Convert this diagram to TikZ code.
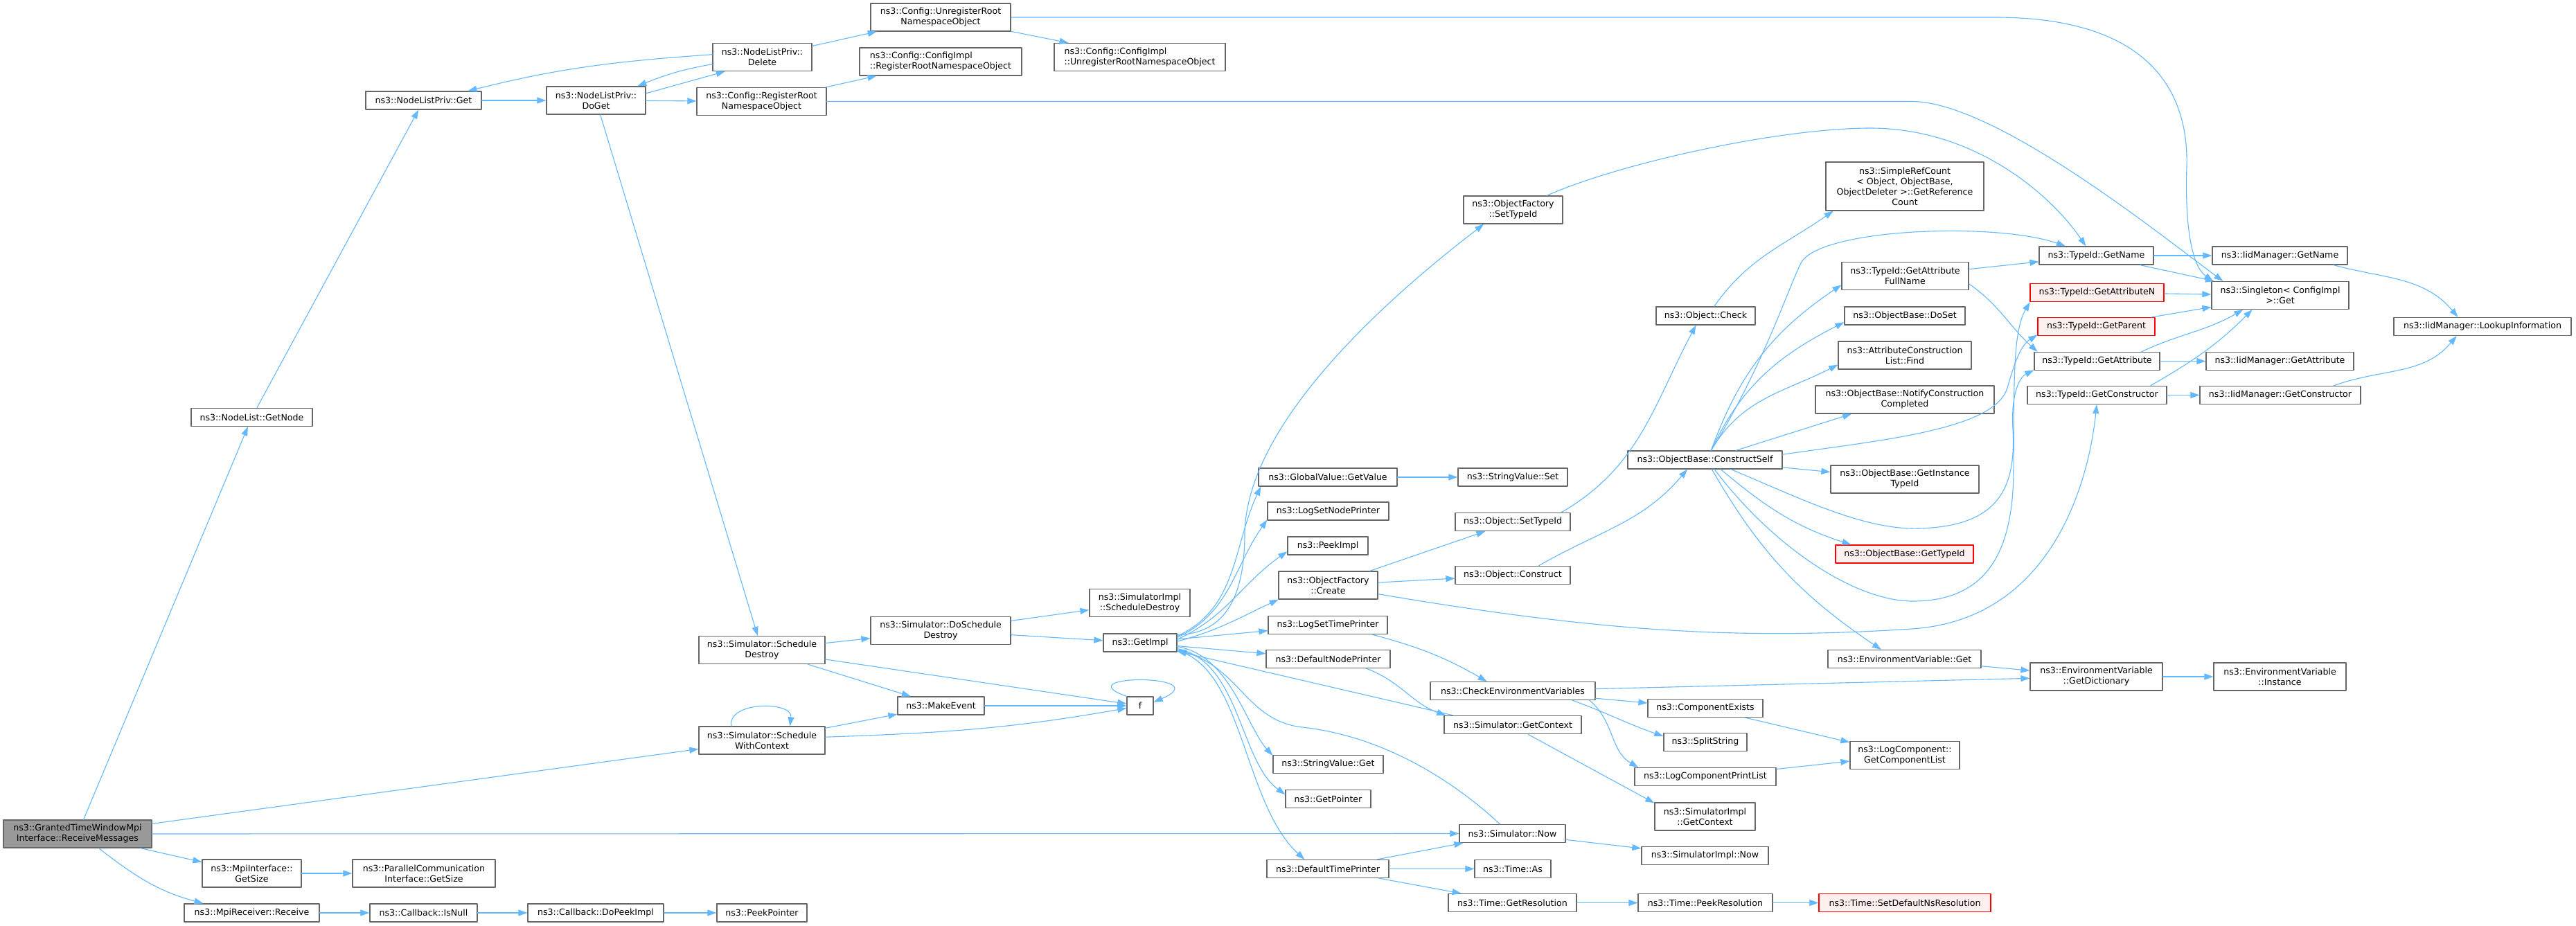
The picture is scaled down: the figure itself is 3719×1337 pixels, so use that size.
\documentclass[tikz,border=0pt]{standalone}
\usepackage{fontspec}
\setmainfont{DejaVu Sans}
\usetikzlibrary{arrows.meta}
\definecolor{edgeblue}{HTML}{63B8FF}
\definecolor{boxline}{HTML}{666666}
\definecolor{rootgray}{HTML}{999999}
\definecolor{missfill}{HTML}{FFF0F0}
\begin{document}
\begin{tikzpicture}[x=1pt, y=-1pt, line join=round, line cap=round,
	fn/.style={draw=boxline, line width=1.2pt, fill=white, inner sep=1pt, minimum height=26pt, align=center, font=\fontsize{12.6}{15}\selectfont},
	fn2/.style={fn, minimum height=40pt},
	root/.style={fill=rootgray},
	miss/.style={draw=red, fill=missfill},
	calls/.style={draw=edgeblue, line width=1.1pt, -{Triangle[length=13pt,width=9pt]}}]
	\path[fill=white, use as bounding box] (0,0) rectangle (3719,1337);
	% column 1-2
	\node[fn2, root, minimum width=214] (recv) at (112,1204) {ns3::GrantedTimeWindowMpi\\Interface::ReceiveMessages};
	\node[fn, minimum width=175] (getnode) at (363.5,602.5) {ns3::NodeList::GetNode};
	\node[fn2, minimum width=143] (mpisize) at (363.5,1261) {ns3::MpiInterface::\\GetSize};
	\node[fn, minimum width=195] (mpirecv) at (363.5,1318) {ns3::MpiReceiver::Receive};
	% column 3-4
	\node[fn, minimum width=167] (get) at (611.5,145) {ns3::NodeListPriv::Get};
	\node[fn2, minimum width=206] (pcisize) at (612,1261) {ns3::ParallelCommunication\\Interface::GetSize};
	\node[fn, minimum width=155] (isnull) at (611.5,1318) {ns3::Callback::IsNull};
	\node[fn2, minimum width=143] (doget) at (860.5,145) {ns3::NodeListPriv::\\DoGet};
	\node[fn, minimum width=196] (dopeek) at (860,1318) {ns3::Callback::DoPeekImpl};
	% column 5
	\node[fn2, minimum width=143] (delete) at (1100.5,82.5) {ns3::NodeListPriv::\\Delete};
	\node[fn2, minimum width=187] (regroot) at (1099.5,146.5) {ns3::Config::RegisterRoot\\NamespaceObject};
	\node[fn2, minimum width=182] (schdestroy) at (1100,938.5) {ns3::Simulator::Schedule\\Destroy};
	\node[fn2, minimum width=182] (schctx) at (1100,1069) {ns3::Simulator::Schedule\\WithContext};
	\node[fn, minimum width=130] (peekptr) at (1100,1318) {ns3::PeekPointer};
	% column 6
	\node[fn2, minimum width=202] (unregroot) at (1358,25) {ns3::Config::UnregisterRoot\\NamespaceObject};
	\node[fn2, minimum width=234, align=left] (implreg) at (1358,89) {ns3::Config::ConfigImpl\\::RegisterRootNamespaceObject};
	\node[fn2, minimum width=202] (doschd) at (1358,910.5) {ns3::Simulator::DoSchedule\\Destroy};
	\node[fn, minimum width=125] (makeevent) at (1358.5,1019) {ns3::MakeEvent};
	% column 7
	\node[fn2, minimum width=247, align=left] (implunreg) at (1645.5,82.5) {ns3::Config::ConfigImpl\\::UnregisterRootNamespaceObject};
	\node[fn2, minimum width=145] (implschd) at (1645.5,870.5) {ns3::SimulatorImpl\\::ScheduleDestroy};
	\node[fn, minimum width=106] (getimpl) at (1646,928) {ns3::GetImpl};
	\node[fn, minimum width=38] (f) at (1646,1019) {f};
	% column 8
	\node[fn, minimum width=200] (globget) at (1917,689) {ns3::GlobalValue::GetValue};
	\node[fn, minimum width=175] (lognode) at (1917.5,738) {ns3::LogSetNodePrinter};
	\node[fn, minimum width=116] (peekimpl) at (1917,788) {ns3::PeekImpl};
	\node[fn2, minimum width=143] (factcreate) at (1917.5,845) {ns3::ObjectFactory\\::Create};
	\node[fn, minimum width=172] (logtime) at (1917,902.5) {ns3::LogSetTimePrinter};
	\node[fn, minimum width=179] (defnode) at (1917.5,951.5) {ns3::DefaultNodePrinter};
	\node[fn, minimum width=159] (strget) at (1917.5,1103.5) {ns3::StringValue::Get};
	\node[fn, minimum width=123] (getptr) at (1917.5,1153.5) {ns3::GetPointer};
	\node[fn, minimum width=176] (deftime) at (1917,1254.5) {ns3::DefaultTimePrinter};
	% column 9
	\node[fn2, minimum width=143] (factsettype) at (2184.5,303) {ns3::ObjectFactory\\::SetTypeId};
	\node[fn, minimum width=158] (strset) at (2184,689) {ns3::StringValue::Set};
	\node[fn, minimum width=166] (objsettype) at (2184,753.5) {ns3::Object::SetTypeId};
	\node[fn, minimum width=166] (construct) at (2184,830.5) {ns3::Object::Construct};
	\node[fn, minimum width=238] (checkenv) at (2184,997.5) {ns3::CheckEnvironmentVariables};
	\node[fn, minimum width=198] (simctx) at (2184,1046.5) {ns3::Simulator::GetContext};
	\node[fn, minimum width=153] (simnow) at (2183.5,1203.5) {ns3::Simulator::Now};
	\node[fn, minimum width=110] (timeas) at (2184,1254.5) {ns3::Time::As};
	\node[fn, minimum width=185] (getres) at (2183.5,1303.5) {ns3::Time::GetResolution};
	% column 10
	\node[fn, minimum width=143] (check) at (2462.5,456) {ns3::Object::Check};
	\node[fn, minimum width=223] (constself) at (2461.5,664) {ns3::ObjectBase::ConstructSelf};
	\node[fn, minimum width=166] (compexists) at (2462,1022.5) {ns3::ComponentExists};
	\node[fn, minimum width=120] (split) at (2462,1071.5) {ns3::SplitString};
	\node[fn, minimum width=204] (logprint) at (2462,1121.5) {ns3::LogComponentPrintList};
	\node[fn2, minimum width=145] (implctx) at (2461.5,1179) {ns3::SimulatorImpl\\::GetContext};
	\node[fn, minimum width=183] (implnow) at (2461.5,1235.5) {ns3::SimulatorImpl::Now};
	\node[fn, minimum width=194] (peekres) at (2462,1303.5) {ns3::Time::PeekResolution};
	% column 11
	\node[fn, minimum width=228, minimum height=70] (simpleref) at (2750,269) {ns3::SimpleRefCount\\< Object, ObjectBase,\\ObjectDeleter >::GetReference\\Count};
	\node[fn2, minimum width=183] (attrfull) at (2750.5,398.5) {ns3::TypeId::GetAttribute\\FullName};
	\node[fn, minimum width=174] (doset) at (2750,456) {ns3::ObjectBase::DoSet};
	\node[fn2, minimum width=192] (acfind) at (2750,513) {ns3::AttributeConstruction\\List::Find};
	\node[fn2, minimum width=258] (notify) at (2750,577) {ns3::ObjectBase::NotifyConstruction\\Completed};
	\node[fn2, minimum width=214] (instid) at (2750,692) {ns3::ObjectBase::GetInstance\\TypeId};
	\node[fn, miss, minimum width=199] (obgettid) at (2749.5,800) {ns3::ObjectBase::GetTypeId};
	\node[fn, minimum width=221] (envget) at (2749.5,951.5) {ns3::EnvironmentVariable::Get};
	\node[fn2, minimum width=158] (complist) at (2750,1090.5) {ns3::LogComponent::\\GetComponentList};
	\node[fn, miss, minimum width=248] (setdefres) at (2750,1303.5) {ns3::Time::SetDefaultNsResolution};
	% column 12
	\node[fn, minimum width=165] (getname) at (3026.5,369) {ns3::TypeId::GetName};
	\node[fn, miss, minimum width=193] (getattrn) at (3027.5,422.5) {ns3::TypeId::GetAttributeN};
	\node[fn, miss, minimum width=169] (getparent) at (3026.5,471.5) {ns3::TypeId::GetParent};
	\node[fn, minimum width=181] (getattr) at (3027.5,521.5) {ns3::TypeId::GetAttribute};
	\node[fn, minimum width=201] (getctor) at (3027.5,570.5) {ns3::TypeId::GetConstructor};
	\node[fn2, minimum width=191] (getdict) at (3026.5,977) {ns3::EnvironmentVariable\\::GetDictionary};
	% column 13-14
	\node[fn, minimum width=195] (iidname) at (3291.5,369) {ns3::IidManager::GetName};
	\node[fn2, minimum width=198] (singleton) at (3292,426.5) {ns3::Singleton< ConfigImpl\\>::Get};
	\node[fn, minimum width=213] (iidattr) at (3291.5,521.5) {ns3::IidManager::GetAttribute};
	\node[fn, minimum width=232] (iidctor) at (3292,570.5) {ns3::IidManager::GetConstructor};
	\node[fn2, minimum width=191] (envinst) at (3291.5,977) {ns3::EnvironmentVariable\\::Instance};
	\node[fn, minimum width=256] (lookup) at (3584,471.5) {ns3::IidManager::LookupInformation};
	% calls from the root
	\draw[calls] (recv) -- (getnode);
	\draw[calls] (recv) -- (schctx);
	\draw[calls] (recv) -- (simnow);
	\draw[calls] (recv) -- (mpisize);
	\draw[calls] (recv.-34) to[out=-38,in=165] (mpirecv.169);
	\draw[calls] (mpisize) -- (pcisize);
	\draw[calls] (mpirecv) -- (isnull);
	\draw[calls] (isnull) -- (dopeek);
	\draw[calls] (dopeek) -- (peekptr);
	% node list
	\draw[calls] (getnode) -- (get);
	\draw[calls] (get) -- (doget);
	\draw[calls] (doget.8) -- (delete.-159);
	\draw[calls] (delete.-172) to[out=190,in=22] (doget.19);
	\draw[calls] (delete.177) to[out=184,in=14] (get.12);
	\draw[calls] (doget) -- (regroot);
	\draw[calls] (doget) -- (schdestroy);
	\draw[calls] (delete) -- (unregroot);
	\draw[calls] (unregroot) -- (implunreg);
	\draw[calls] (regroot) -- (implreg);
	\draw[calls] (unregroot.east) -- (2880,25) .. controls (3090,25) and (3160,120) .. (3157,240) .. controls (3154,330) and (3165,385) .. (singleton.168);
	\draw[calls] (regroot.east) -- (2760,146.5) .. controls (2880,146.5) and (3120,340) .. (singleton.166);
	% simulator
	\draw[calls] (schdestroy) -- (doschd);
	\draw[calls] (schdestroy) -- (makeevent);
	\draw[calls] (schdestroy) -- (f);
	\draw[calls] (schctx.155) .. controls (1050,1012) and (1145,1012) .. (schctx.27);
	\draw[calls] (schctx) -- (makeevent);
	\draw[calls] (schctx.3) to[out=2,in=190] (f.-170);
	\draw[calls] (makeevent) -- (f);
	\draw[calls] (f.145) .. controls (1535,973) and (1760,973) .. (f.15);
	\draw[calls] (doschd) -- (implschd);
	\draw[calls] (doschd) -- (getimpl);
	% GetImpl fan
	\draw[calls] (getimpl.12) .. controls (1770,915) and (1797,860) .. (1797,770) .. controls (1800,600) and (2030,410) .. (factsettype.-154);
	\draw[calls] (getimpl.10) to[out=25,in=-115] (globget.-172);
	\draw[calls] (getimpl.8) to[out=25,in=-125] (lognode.-172);
	\draw[calls] (getimpl.5) to[out=25,in=-145] (peekimpl.-172);
	\draw[calls] (getimpl.2) to[out=15,in=-155] (factcreate.-164);
	\draw[calls] (getimpl) -- (logtime);
	\draw[calls] (getimpl) -- (defnode);
	\draw[calls] (getimpl.-6) .. controls (1775,945) and (1800,1050) .. (strget.171);
	\draw[calls] (getimpl.-9) .. controls (1790,955) and (1790,1100) .. (getptr.174);
	\draw[calls] (getimpl.-12) .. controls (1795,965) and (1795,1160) .. (deftime.158);
	\draw[calls] (globget) -- (strset);
	\draw[calls] (factcreate) -- (objsettype);
	\draw[calls] (factcreate) -- (construct);
	\draw[calls] (factcreate.-10) .. controls (2300,910) and (2500,925) .. (2760,908) .. controls (2960,895) and (3015,700) .. (getctor.-92);
	\draw[calls] (logtime.-12) to[out=-15,in=150] (checkenv.160);
	\draw[calls] (defnode.-14) to[out=-20,in=160] (simctx.172);
	\draw[calls] (simctx.171) -- (getimpl);
	\draw[calls] (simctx.-32) -- (implctx.165);
	\draw[calls] (simnow.143) .. controls (2090,1120) and (1990,1062) .. (1880,1050) .. controls (1800,1041) and (1790,965) .. (getimpl.-11);
	\draw[calls] (simnow) -- (implnow);
	\draw[calls] (deftime) -- (simnow);
	\draw[calls] (deftime) -- (timeas);
	\draw[calls] (deftime) -- (getres);
	\draw[calls] (getres) -- (peekres);
	\draw[calls] (peekres) -- (setdefres);
	% objects
	\draw[calls] (objsettype.11) to[out=30,in=-118] (check.-136);
	\draw[calls] (construct.20) to[out=30,in=-130] (constself.-152);
	\draw[calls] (check.48) to[out=55,in=-145] (simpleref.-161);
	\draw[calls] (factsettype.23) .. controls (2340,235) and (2570,185) .. (2700,185) .. controls (2850,185) and (2960,280) .. (getname.138);
	\draw[calls] (constself.57) .. controls (2545,530) and (2580,420) .. (2600,380) .. controls (2625,330) and (2880,320) .. (getname.163);
	\draw[calls] (constself.57) to[out=70,in=-146] (attrfull.-172);
	\draw[calls] (constself.57) to[out=65,in=-153] (doset.-174);
	\draw[calls] (constself.57) to[out=60,in=-153] (acfind.-172);
	\draw[calls] (constself.17) -- (notify.-165);
	\draw[calls] (constself.4) .. controls (2720,635) and (2880,620) .. (2898,560) .. controls (2906,533) and (2915,500) .. (getparent.-172);
	\draw[calls] (constself) -- (instid);
	\draw[calls] (constself.-31) to[out=-40,in=162] (obgettid.170);
	\draw[calls] (constself.-54) to[out=-60,in=146] (envget.158);
	\draw[calls] (constself.-20) .. controls (2600,720) and (2690,765) .. (2770,763) .. controls (2890,760) and (2910,700) .. (2906,620) .. controls (2903,570) and (2915,545) .. (getattr.-172);
	\draw[calls] (constself.-45) .. controls (2560,790) and (2680,870) .. (2765,868) .. controls (2880,866) and (2906,780) .. (2907,680) .. controls (2908,560) and (2905,480) .. (getattrn.-172);
	% type ids
	\draw[calls] (attrfull) -- (getname);
	\draw[calls] (attrfull.-7) to[out=-35,in=138] (getattr.171);
	\draw[calls] (getname) -- (iidname);
	\draw[calls] (getname) -- (singleton);
	\draw[calls] (getattrn) -- (singleton);
	\draw[calls] (getparent) -- (singleton);
	\draw[calls] (getattr.12) to[out=25,in=-150] (singleton.-159);
	\draw[calls] (getctor.10) to[out=30,in=-135] (singleton.-153);
	\draw[calls] (getattr) -- (iidattr);
	\draw[calls] (getctor) -- (iidctor);
	\draw[calls] (iidname.-10) to[out=-15,in=130] (lookup.159);
	\draw[calls] (iidctor.10) to[out=20,in=-130] (lookup.-160);
	% environment and log
	\draw[calls] (checkenv) -- (getdict);
	\draw[calls] (checkenv) -- (compexists);
	\draw[calls] (checkenv.-9) to[out=-20,in=161] (split.172);
	\draw[calls] (checkenv.-7) to[out=-40,in=150] (logprint.172);
	\draw[calls] (compexists) -- (complist);
	\draw[calls] (logprint) -- (complist);
	\draw[calls] (envget) -- (getdict);
	\draw[calls] (getdict) -- (envinst);
\end{tikzpicture}
\end{document}
